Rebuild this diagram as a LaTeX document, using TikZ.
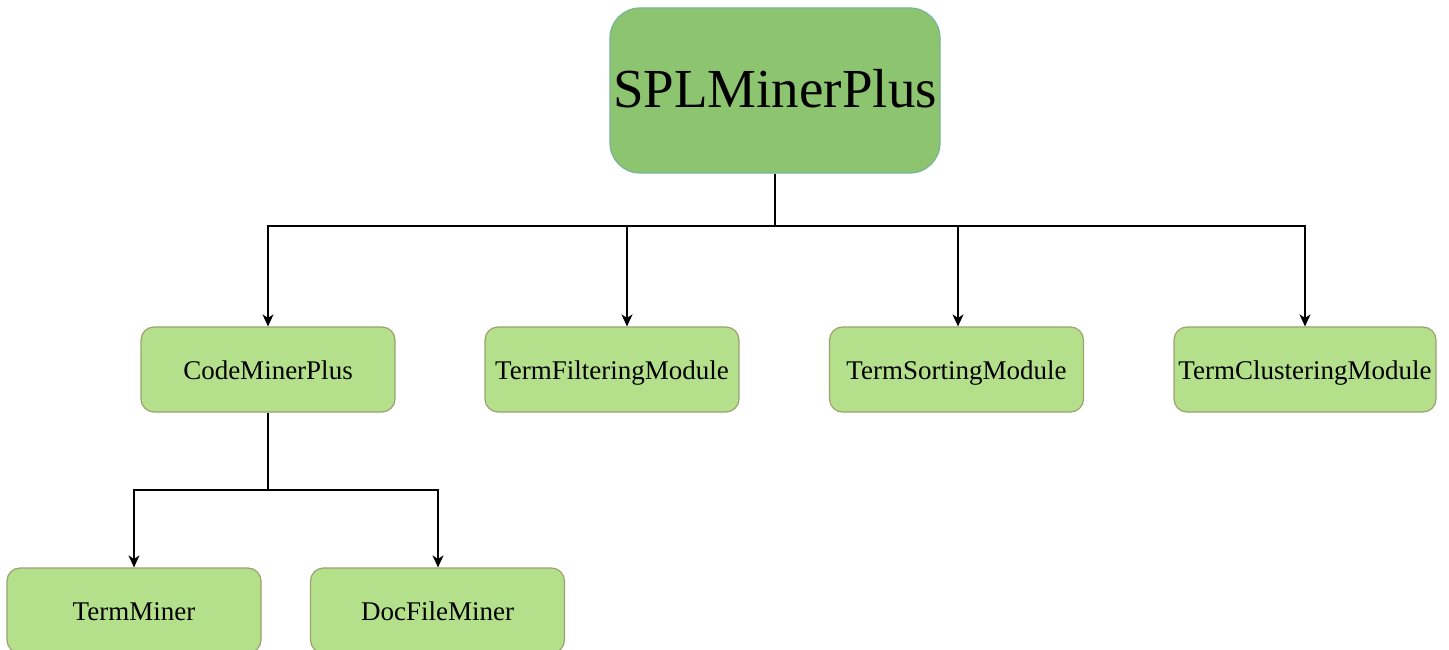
\documentclass[tikz,border=0pt]{standalone}
\usepackage{fontspec}
\setmainfont{Liberation Serif}
\usetikzlibrary{arrows.meta}

\definecolor{rootfill}{RGB}{141,196,112}
\definecolor{rootline}{RGB}{118,180,152}
\definecolor{modfill}{RGB}{180,224,139}
\definecolor{modline}{RGB}{158,160,112}

\tikzset{
  rootbox/.style={draw=rootline, fill=rootfill, line width=1.2pt, rounded corners=30pt,
    minimum width=330pt, minimum height=165pt, inner sep=0pt,
    text height=45pt, text depth=10pt,
    font=\fontsize{55}{66}\selectfont},
  modbox/.style={draw=modline, fill=modfill, line width=1.2pt, rounded corners=13pt,
    minimum width=254pt, minimum height=85pt, inner sep=0pt,
    text height=24pt, text depth=5pt,
    font=\fontsize{27}{32}\selectfont},
  link/.style={draw=black, line width=1.5pt},
  arrowlink/.style={link, -{Stealth[length=12pt, width=11pt, inset=3.5pt]}}
}

\begin{document}
\begin{tikzpicture}[x=1pt, y=1pt]
  \useasboundingbox (0,0) rectangle (1449,-650);

  % main program
  \node[rootbox] (root) at (775,-90.5) {SPLMinerPlus};

  % first level modules
  \node[modbox] (cmp) at (268,-369.5) {CodeMinerPlus};
  \node[modbox] (tfm) at (612,-369.5) {TermFilteringModule};
  \node[modbox] (tsm) at (956.5,-369.5) {TermSortingModule};
  \node[modbox, minimum width=262pt] (tcm) at (1305,-369.5) {TermClusteringModule};

  % second level modules
  \node[modbox] (tm) at (134,-610.5) {TermMiner};
  \node[modbox] (dfm) at (437.5,-610.5) {DocFileMiner};

  % tree connectors from the main program
  \coordinate (bus) at (775,-226);
  \draw[link] (root.south) -- (bus);
  \draw[arrowlink] (bus) -| (cmp.north);
  \draw[arrowlink] (bus) -| ([xshift=15pt]tfm.north);
  \draw[arrowlink] (bus) -| ([xshift=1.5pt]tsm.north);
  \draw[arrowlink] (bus) -| (tcm.north);

  % tree connectors from CodeMinerPlus
  \coordinate (subbus) at (268,-490);
  \draw[link] (cmp.south) -- (subbus);
  \draw[arrowlink] (subbus) -| (tm.north);
  \draw[arrowlink] (subbus) -| ([xshift=0.5pt]dfm.north);
\end{tikzpicture}
\end{document}
